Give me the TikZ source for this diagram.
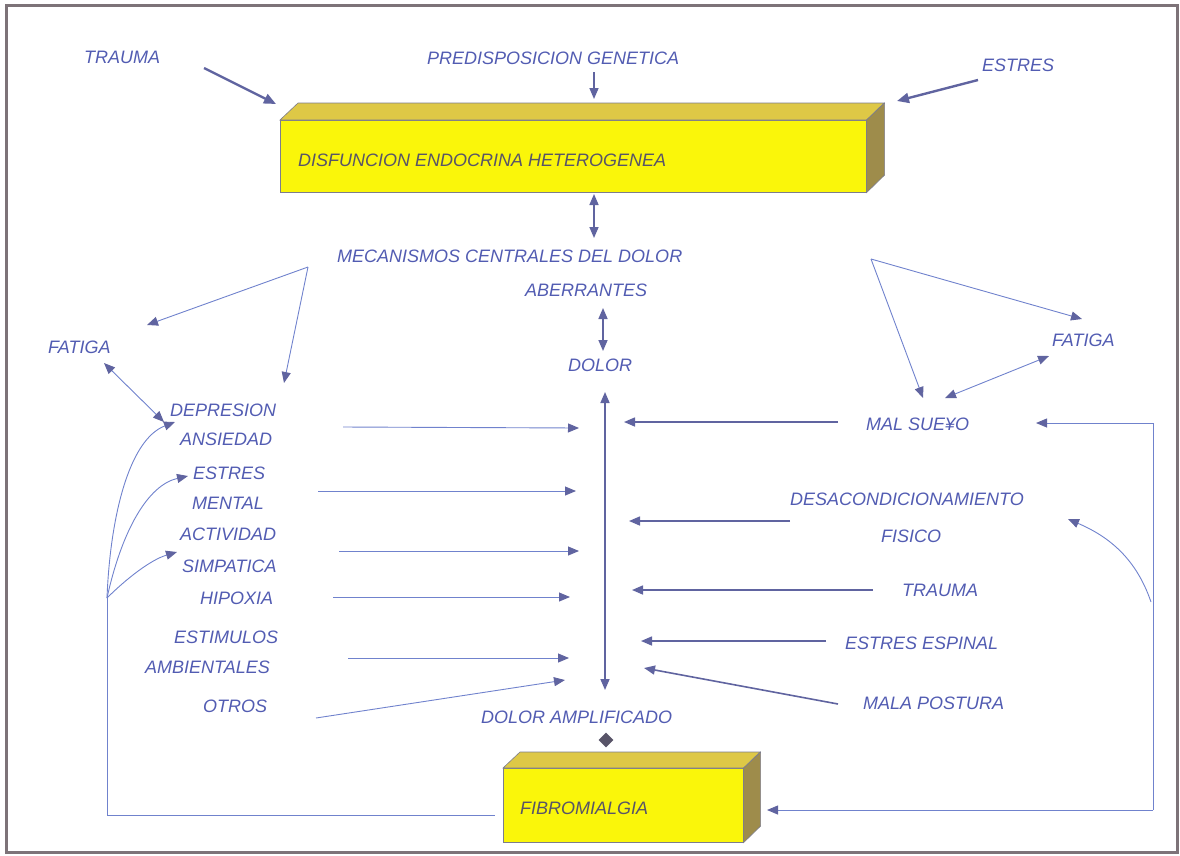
\documentclass[tikz,border=0pt]{standalone}
\usepackage{fontspec}
\setmainfont{Liberation Sans}
\usetikzlibrary{arrows.meta,shapes.geometric}
\definecolor{txtblue}{RGB}{82,92,178}
\definecolor{lineblue}{RGB}{112,130,205}
\definecolor{headcol}{RGB}{96,100,160}
\definecolor{thickcol}{RGB}{96,100,160}
\definecolor{framecol}{RGB}{125,115,120}
\definecolor{frontcol}{RGB}{250,246,10}
\definecolor{topcol}{RGB}{222,200,70}
\definecolor{sidecol}{RGB}{158,140,75}
\definecolor{edgecol}{RGB}{125,125,140}
\definecolor{boxtxt}{RGB}{88,84,104}
\newcommand\lblfont{\fontsize{18}{21}\selectfont\itshape}
\tikzset{
  lbl/.style={font=\lblfont, text=txtblue, inner sep=0pt, anchor=west},
  boxlbl/.style={font=\lblfont, text=boxtxt, inner sep=0pt, anchor=west},
  tipT/.tip={Triangle[length=11pt,width=9pt,color=headcol]},
  thinarrow/.style={draw=lineblue, line width=0.9pt, -tipT},
  thinline/.style={draw=lineblue, line width=0.9pt},
  thinboth/.style={draw=lineblue, line width=0.9pt, tipT-tipT},
  medarrow/.style={draw=thickcol, line width=1.6pt, -tipT},
  medboth/.style={draw=thickcol, line width=1.6pt, tipT-tipT},
  thickarrow/.style={draw=thickcol, line width=2.4pt, -{Triangle[length=12pt,width=10pt,color=headcol]}},
  front/.style={draw=edgecol, line width=0.6pt, fill=frontcol, inner sep=0pt},
  topface/.style={draw=edgecol, line width=0.6pt, fill=topcol},
  sideface/.style={draw=edgecol, line width=0.6pt, fill=sidecol},
}
\begin{document}
\begin{tikzpicture}[x=1pt,y=-1pt]
\useasboundingbox (0,0) rectangle (1180,855);
\draw[framecol, line width=3pt] (6,5) rectangle (1177,852);

% ---- top box
\node[front, minimum width=586pt, minimum height=72pt, anchor=north west] (endo) at (280,120) {};
\draw[topface] (endo.north west) -- ++(18,-17) -- ++(586,0) -- (endo.north east) -- cycle;
\draw[sideface] (endo.north east) -- ++(18,-17) -- ++(0,72) -- (endo.south east) -- cycle;
\node[boxlbl] (endot) at (298,160) {DISFUNCION ENDOCRINA HETEROGENEA};

% ---- bottom box
\node[front, minimum width=240pt, minimum height=74pt, anchor=north west] (fibro) at (503,768) {};
\draw[topface] (fibro.north west) -- ++(17,-16) -- ++(240,0) -- (fibro.north east) -- cycle;
\draw[sideface] (fibro.north east) -- ++(17,-16) -- ++(0,74) -- (fibro.south east) -- cycle;
\node[boxlbl] (fibrot) at (520,808) {FIBROMIALGIA};

% ---- labels
\node[lbl] (trauma1) at (84,57) {TRAUMA};
\node[lbl] (pred) at (427,58) {PREDISPOSICION GENETICA};
\node[lbl] (estres1) at (982,65) {ESTRES};
\node[lbl] (mec) at (337,256) {MECANISMOS CENTRALES DEL DOLOR};
\node[lbl] (aber) at (525,290) {ABERRANTES};
\node[lbl] (dolor) at (568,365) {DOLOR};
\node[lbl] (fatL) at (48,347) {FATIGA};
\node[lbl] (depr) at (170,410) {DEPRESION};
\node[lbl] (ansi) at (180,439) {ANSIEDAD};
\node[lbl] (estr2) at (193,473) {ESTRES};
\node[lbl] (ment) at (192,503) {MENTAL};
\node[lbl] (acti) at (180,534) {ACTIVIDAD};
\node[lbl] (simp) at (182,566) {SIMPATICA};
\node[lbl] (hipo) at (200,598) {HIPOXIA};
\node[lbl] (esti) at (174,637) {ESTIMULOS};
\node[lbl] (ambi) at (145,667) {AMBIENTALES};
\node[lbl] (otro) at (203,706) {OTROS};
\node[lbl] (fatR) at (1052,340) {FATIGA};
\node[lbl] (mals) at (866,424) {MAL SUE¥O};
\node[lbl] (desa) at (790,499) {DESACONDICIONAMIENTO};
\node[lbl] (fisi) at (881,536) {FISICO};
\node[lbl] (trau2) at (902,590) {TRAUMA};
\node[lbl] (espi) at (845,643) {ESTRES ESPINAL};
\node[lbl] (malp) at (863,703) {MALA POSTURA};
\node[lbl] (ampl) at (481,717) {DOLOR AMPLIFICADO};
\node[diamond, fill=boxtxt, minimum size=15pt, inner sep=0pt] (diam) at (606,740) {};

% ---- coordinates
\coordinate (t1s) at (204,68);  \coordinate (t1e) at (276,104);
\coordinate (ps) at (594,72);   \coordinate (pe) at (594,99);
\coordinate (e1s) at (978,80);  \coordinate (e1e) at (897,101);
\coordinate (bm1) at (594,194); \coordinate (bm2) at (594,238);
\coordinate (ad1) at (603,308); \coordinate (ad2) at (603,351);
\coordinate (v1) at (605,392);  \coordinate (v2) at (605,690);
\coordinate (mL) at (308,267);  \coordinate (mLa) at (147,325); \coordinate (mLb) at (284,383);
\coordinate (mR) at (871,259);  \coordinate (mRa) at (1082,319); \coordinate (mRb) at (923,398);
\coordinate (fL1) at (104,363); \coordinate (fL2) at (164,422);
\coordinate (fR1) at (1049,356);\coordinate (fR2) at (945,398);
\coordinate (jL) at (107,598);
\coordinate (cDep) at (175,422); \coordinate (cEst) at (188,476); \coordinate (cSim) at (177,552);
\coordinate (lb) at (107,815);   \coordinate (lbe) at (495,815);
\coordinate (a1s) at (343,427);  \coordinate (a1e) at (579,428);
\coordinate (a2s) at (318,491);  \coordinate (a2e) at (576,491);
\coordinate (a3s) at (339,551);  \coordinate (a3e) at (579,551);
\coordinate (a4s) at (333,597);  \coordinate (a4e) at (570,597);
\coordinate (a5s) at (348,658);  \coordinate (a5e) at (569,658);
\coordinate (a6s) at (316,718);  \coordinate (a6e) at (565,680);
\coordinate (r1s) at (838,422);  \coordinate (r1e) at (624,422);
\coordinate (r2s) at (790,521);  \coordinate (r2e) at (629,521);
\coordinate (r3s) at (873,590);  \coordinate (r3e) at (632,590);
\coordinate (r4s) at (826,641);  \coordinate (r4e) at (641,641);
\coordinate (r5s) at (838,704);  \coordinate (r5e) at (644,668);
\coordinate (rt) at (1153,423);  \coordinate (rte) at (1036,423);
\coordinate (rb) at (1153,810);  \coordinate (rbe) at (767,810);
\coordinate (rc) at (1151,602);  \coordinate (rce) at (1068,519);

% ---- top arrows
\draw[thickarrow] (t1s) -- (t1e);
\draw[medarrow] (ps) -- (pe);
\draw[thickarrow] (e1s) -- (e1e);
\draw[medboth] (bm1) -- (bm2);
\draw[medboth] (ad1) -- (ad2);
\draw[medboth] (v1) -- (v2);

% ---- branches from MECANISMOS
\draw[thinarrow] (mL) -- (mLa);
\draw[thinarrow] (mL) -- (mLb);
\draw[thinarrow] (mR) -- (mRa);
\draw[thinarrow] (mR) -- (mRb);
\draw[thinboth] (fL1) -- (fL2);
\draw[thinboth] (fR1) -- (fR2);

% ---- left curves and loop
\draw[thinarrow] (jL) .. controls (110,520) and (128,440) .. (cDep);
\draw[thinarrow] (jL) .. controls (122,530) and (148,485) .. (cEst);
\draw[thinarrow] (jL) .. controls (125,580) and (150,560) .. (cSim);
\draw[thinline] (jL) -- (lb) -- (lbe);

% ---- left horizontal arrows
\draw[thinarrow] (a1s) -- (a1e);
\draw[thinarrow] (a2s) -- (a2e);
\draw[thinarrow] (a3s) -- (a3e);
\draw[thinarrow] (a4s) -- (a4e);
\draw[thinarrow] (a5s) -- (a5e);
\draw[thinarrow] (a6s) -- (a6e);

% ---- right arrows
\draw[medarrow] (r1s) -- (r1e);
\draw[medarrow] (r2s) -- (r2e);
\draw[medarrow] (r3s) -- (r3e);
\draw[medarrow] (r4s) -- (r4e);
\draw[medarrow] (r5s) -- (r5e);

% ---- right loop
\draw[thinarrow] (rt) -- (rte);
\draw[thinline] (rt) -- (rb);
\draw[thinarrow] (rb) -- (rbe);
\draw[thinarrow] (rc) .. controls (1135,555) and (1105,535) .. (rce);
\end{tikzpicture}
\end{document}
